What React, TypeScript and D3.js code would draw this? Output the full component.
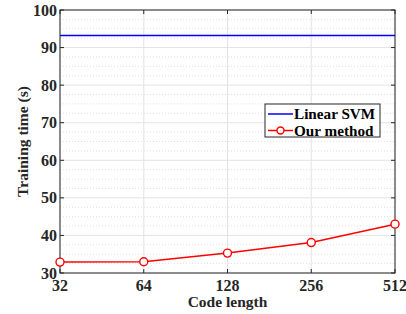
import React, { useRef, useEffect } from "react";
import * as d3 from "d3";

const codeLengths = [32, 64, 128, 256, 512];
const linearSvm = [93.2, 93.2, 93.2, 93.2, 93.2];
const ourMethod = [32.9, 33.0, 35.3, 38.1, 43.0];
const yTicks = [30, 40, 50, 60, 70, 80, 90, 100];
const seriesNames = ["Linear SVM", "Our method"];

const W = 406;
const H = 314;
const margin = { left: 60, right: 11, top: 10, bottom: 41 };

export default function App() {
  const ref = useRef<SVGSVGElement>(null);

  useEffect(() => {
    const svg = d3.select(ref.current);
    svg.selectAll("*").remove();
    const font = "'Liberation Serif', 'Times New Roman', serif";
    const x0 = margin.left, x1 = W - margin.right;
    const y0 = H - margin.bottom, y1 = margin.top;

    const x = d3.scaleLog().base(2).domain([32, 512]).range([x0, x1]);
    const y = d3.scaleLinear().domain([30, 100]).range([y0, y1]);

    svg.append("rect").attr("width", W).attr("height", H).attr("fill", "#fff");

    // minor grid
    const minors = d3.range(30, 100.01, 2.5).filter((v) => v % 10 !== 0);
    svg.append("g").selectAll("line").data(minors).enter().append("line")
      .attr("x1", x0).attr("x2", x1)
      .attr("y1", (d) => y(d)).attr("y2", (d) => y(d))
      .attr("stroke", "#d8d8d8").attr("stroke-width", 0.8)
      .attr("stroke-dasharray", "1,2");

    // major grid
    svg.append("g").selectAll("line").data(yTicks).enter().append("line")
      .attr("x1", x0).attr("x2", x1)
      .attr("y1", (d) => y(d)).attr("y2", (d) => y(d))
      .attr("stroke", "#e3e3e3").attr("stroke-width", 1);
    svg.append("g").selectAll("line").data(codeLengths).enter().append("line")
      .attr("y1", y0).attr("y2", y1)
      .attr("x1", (d) => x(d)).attr("x2", (d) => x(d))
      .attr("stroke", "#e3e3e3").attr("stroke-width", 1);

    // box
    svg.append("rect").attr("x", x0).attr("y", y1)
      .attr("width", x1 - x0).attr("height", y0 - y1)
      .attr("fill", "none").attr("stroke", "#262626").attr("stroke-width", 1);

    // ticks
    const tk = svg.append("g").attr("stroke", "#262626");
    yTicks.forEach((v) => {
      tk.append("line").attr("x1", x0).attr("x2", x0 + 4).attr("y1", y(v)).attr("y2", y(v));
      tk.append("line").attr("x1", x1).attr("x2", x1 - 4).attr("y1", y(v)).attr("y2", y(v));
    });
    codeLengths.forEach((v) => {
      tk.append("line").attr("x1", x(v)).attr("x2", x(v)).attr("y1", y0).attr("y2", y0 - 4);
      tk.append("line").attr("x1", x(v)).attr("x2", x(v)).attr("y1", y1).attr("y2", y1 + 4);
    });

    // tick labels
    svg.append("g").selectAll("text").data(yTicks).enter().append("text")
      .attr("x", x0 - 3).attr("y", (d) => y(d)).attr("dy", "0.35em")
      .attr("text-anchor", "end").attr("font-family", font).attr("font-weight", "bold")
      .attr("font-size", 16).attr("fill", "#262626").text((d) => d);
    svg.append("g").selectAll("text").data(codeLengths).enter().append("text")
      .attr("x", (d) => x(d)).attr("y", y0 + 18)
      .attr("text-anchor", "middle").attr("font-family", font).attr("font-weight", "bold")
      .attr("font-size", 16).attr("fill", "#262626").text((d) => d);

    // axis labels
    svg.append("text").attr("x", (x0 + x1) / 2).attr("y", 307)
      .attr("text-anchor", "middle").attr("font-family", font).attr("font-weight", "bold")
      .attr("font-size", 15.5).attr("fill", "#262626").text("Code length");
    svg.append("text")
      .attr("transform", `translate(28,${(y0 + y1) / 2}) rotate(-90)`)
      .attr("text-anchor", "middle").attr("font-family", font).attr("font-weight", "bold")
      .attr("font-size", 15.5).attr("fill", "#262626").text("Training time (s)");

    const line = d3.line<number>().x((_, i) => x(codeLengths[i])).y((d) => y(d));
    svg.append("path").datum(linearSvm).attr("d", line)
      .attr("fill", "none").attr("stroke", "#0000ff").attr("stroke-width", 1.5);
    svg.append("path").datum(ourMethod).attr("d", line)
      .attr("fill", "none").attr("stroke", "#ff0000").attr("stroke-width", 1.5);
    svg.append("g").selectAll("circle").data(ourMethod).enter().append("circle")
      .attr("cx", (_, i) => x(codeLengths[i])).attr("cy", (d) => y(d)).attr("r", 4)
      .attr("fill", "#fff").attr("stroke", "#ff0000").attr("stroke-width", 1.4);

    // legend
    const lg = svg.append("g").attr("transform", "translate(265,104)");
    lg.append("rect").attr("width", 115).attr("height", 33)
      .attr("fill", "#fff").attr("stroke", "#262626").attr("stroke-width", 1);
    const colors = ["#0000ff", "#ff0000"];
    seriesNames.forEach((name, i) => {
      const yy = 10 + i * 16.5;
      lg.append("line").attr("x1", 3).attr("x2", 28).attr("y1", yy).attr("y2", yy)
        .attr("stroke", colors[i]).attr("stroke-width", 1.5);
      if (i === 1) {
        lg.append("circle").attr("cx", 15.5).attr("cy", yy).attr("r", 3.5)
          .attr("fill", "#fff").attr("stroke", colors[i]).attr("stroke-width", 1.4);
      }
      lg.append("text").attr("x", 29).attr("y", yy).attr("dy", "0.35em")
        .attr("font-family", font).attr("font-weight", "bold").attr("font-size", 15.2)
        .attr("fill", "#000").text(name);
    });
  }, []);

  return (
    <svg ref={ref} width={W} height={H} style={{ position: "absolute", left: 0, top: 0 }} />
  );
}
